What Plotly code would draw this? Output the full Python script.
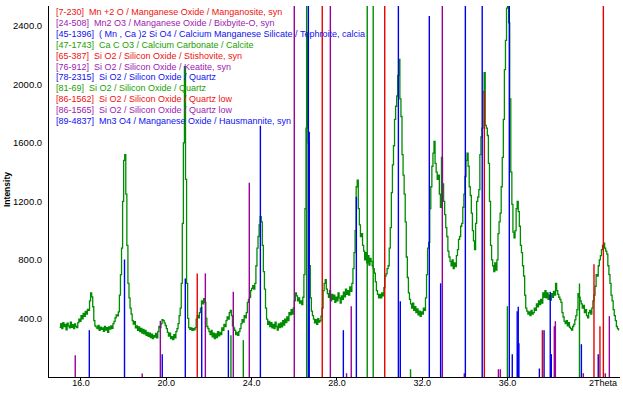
import plotly.graph_objects as go

# ---- measured XRD pattern (counts per 0.05 deg step, starting at 15.0 deg 2Theta)
scan_start = 15.0
scan_step = 0.05
counts = [
    340, 365, 330, 372, 345, 360, 322, 368, 350, 335, 375, 340, 358, 330, 362, 345, 338, 372, 395, 380,
    420, 398, 435, 415, 448, 430, 462, 455, 520, 575, 548, 480, 385, 350, 342, 330, 352, 318, 340, 325,
    335, 312, 345, 320, 338, 305, 342, 328, 350, 332, 365, 380, 405, 425, 418, 445, 560, 700, 880, 1200,
    1480, 1520, 1250, 900, 640, 540, 470, 430, 385, 362, 378, 335, 350, 318, 342, 310, 332, 300, 325, 295,
    318, 285, 305, 278, 300, 270, 292, 262, 285, 272, 298, 268, 310, 345, 338, 365, 392, 385, 370, 352,
    330, 305, 280, 300, 262, 275, 255, 290, 268, 310, 330, 365, 420, 470, 640, 1050, 1600, 2120, 1350, 640,
    400, 338, 325, 335, 318, 330, 322, 338, 395, 420, 405, 440, 470, 520, 500, 535, 510, 400, 345, 330,
    310, 290, 318, 275, 300, 262, 295, 270, 310, 282, 305, 290, 335, 318, 360, 345, 385, 410, 395, 440,
    455, 420, 350, 335, 318, 290, 305, 285, 310, 330, 365, 392, 375, 420, 405, 440, 510, 530, 545, 590,
    605, 625, 600, 640, 760, 880, 960, 1040, 1095, 1060, 900, 720, 600, 470, 395, 360, 380, 345, 372, 335,
    360, 330, 375, 345, 320, 362, 338, 370, 342, 385, 355, 395, 372, 410, 385, 440, 425, 460, 430, 470,
    520, 575, 555, 520, 540, 505, 520, 495, 545, 700, 1150, 1700, 2350, 1600, 760, 540, 450, 420, 395, 370,
    392, 360, 398, 375, 385, 415, 470, 590, 640, 665, 600, 570, 545, 590, 520, 565, 530, 560, 510, 545,
    520, 575, 540, 505, 555, 530, 580, 548, 600, 565, 590, 560, 615, 585, 640, 740, 850, 1000, 1300, 1345,
    1150, 1040, 960, 980, 900, 860, 800, 850, 780, 830, 765, 810, 790, 760, 740, 710, 650, 590, 565, 540,
    565, 540, 575, 555, 610, 690, 705, 740, 760, 880, 1020, 1260, 1450, 1580, 1760, 1850, 1920, 2060, 2170, 1900,
    1780, 1520, 1380, 1250, 1060, 820, 680, 575, 530, 500, 470, 505, 455, 480, 440, 465, 425, 450, 415, 445,
    430, 470, 455, 540, 700, 880, 920, 1150, 1300, 1440, 1530, 1610, 1460, 1400, 1350, 1380, 1250, 1160, 1500, 1320,
    1200, 1110, 1020, 960, 860, 820, 790, 760, 800, 740, 780, 755, 830, 870, 940, 960, 1030, 1050, 1160, 1250,
    1370, 1480, 1530, 1440, 1300, 1240, 1120, 1000, 930, 870, 1050, 1200, 1230, 1280, 1520, 1640, 1700, 1950, 2080, 1720,
    1700, 1650, 1460, 1200, 900, 800, 760, 720, 780, 730, 800, 980, 1060, 1120, 1300, 1500, 1760, 2100, 2300, 2520,
    2530, 2420, 1900, 1400, 1180, 990, 950, 1000, 1150, 1200, 1130, 1030, 900, 850, 760, 690, 560, 470, 450, 430,
    445, 420, 455, 430, 440, 470, 455, 500, 480, 520, 495, 530, 505, 575, 545, 590, 540, 575, 530, 560,
    525, 570, 545, 585, 560, 640, 590, 565, 545, 530, 510, 440, 410, 380, 365, 385, 350, 372, 340, 330,
    320, 345, 360, 390, 420, 460, 570, 545, 520, 500, 470, 490, 440, 460, 420, 405, 440, 455, 430, 470,
    520, 560, 620, 700, 690, 760, 800, 830, 870, 900, 915, 880, 860, 840, 760, 700, 640, 560, 520, 460,
    420, 385, 345, 330, 318,
]
two_theta = [round(scan_start + scan_step * i, 2) for i in range(len(counts))]

# ---- reference (stick) patterns, grouped by colour; 2600 = runs off the top
red_pos = [21.45, 27.31, 30.24, 34.91, 37.63, 40.05, 40.33, 40.49]
red_h = [708, 2600, 2600, 1950, 320, 771, 347, 2600]

purple_pos = [15.73, 18.87, 19.72, 21.83, 23.14, 23.89, 26.00, 27.69, 28.45, 28.67,
              32.94, 33.97, 35.57, 35.66, 38.19, 38.24, 39.55, 40.58, 40.77]
purple_h = [149, 24, 384, 708, 582, 1328, 2600, 2600, 26, 484,
            2600, 26, 53, 53, 347, 381, 26, 26, 416]

blue_pos = [16.39, 18.04, 19.81, 20.89, 21.66, 22.91, 24.41, 26.66, 26.70, 28.30,
            28.91, 30.88, 30.97, 32.33, 32.86, 34.02, 34.81, 36.08, 36.22, 36.45,
            36.48, 36.50, 36.53, 37.49, 37.71, 38.00, 38.05, 39.46, 40.25]
blue_h = [320, 803, 156, 673, 480, 320, 1717, 2600, 1676, 320,
          1231, 2600, 518, 2467, 640, 2600, 2600, 2600, 156, 450,
          230, 480, 230, 58, 320, 582, 156, 224, 156]

green_pos = [23.03, 23.61, 26.58, 29.42, 29.70, 31.45, 35.99, 39.37]
green_h = [286, 252, 2600, 2600, 2600, 53, 484, 639]

x_ticks = [16, 20, 24, 28, 32, 36]
x_tick_text = ["16.0", "20.0", "24.0", "28.0", "32.0", "36.0"]
y_ticks = [400, 800, 1200, 1600, 2000, 2400]

legend_rows = [
    ("[7-230]  Mn +2 O / Manganese Oxide / Manganosite, syn", "red"),
    ("[24-508]  Mn2 O3 / Manganese Oxide / Bixbyite-O, syn", "purple"),
    ("[45-1396]  ( Mn , Ca )2 Si O4 / Calcium Manganese Silicate / Tephroite, calcia", "blue"),
    ("[47-1743]  Ca C O3 / Calcium Carbonate / Calcite", "green"),
    ("[65-387]  Si O2 / Silicon Oxide / Stishovite, syn", "red"),
    ("[76-912]  Si O2 / Silicon Oxide / Keatite, syn", "purple"),
    ("[78-2315]  Si O2 / Silicon Oxide / Quartz", "blue"),
    ("[81-69]  Si O2 / Silicon Oxide / Quartz", "green"),
    ("[86-1562]  Si O2 / Silicon Oxide / Quartz low", "red"),
    ("[86-1565]  Si O2 / Silicon Oxide / Quartz low", "purple"),
    ("[89-4837]  Mn3 O4 / Manganese Oxide / Hausmannite, syn", "blue"),
]

line_colors = {"red": "#e60000", "purple": "#9a009a", "blue": "#0000f0", "green": "#008c00"}
text_colors = {"red": "#f01010", "purple": "#a020b0", "blue": "#1010f0", "green": "#20a000"}
FONT = "Arial, Liberation Sans, sans-serif"


def sticks(pos, h):
    xs, ys = [], []
    for p, v in zip(pos, h):
        xs += [p, p, None]
        ys += [0, v, None]
    return xs, ys


fig = go.Figure()
fig.add_trace(go.Scatter(x=two_theta, y=counts, mode="lines", line_shape="hv",
                         line=dict(color="#008c00", width=1.3), hoverinfo="skip"))
for name, pos, h in [("green", green_pos, green_h), ("purple", purple_pos, purple_h),
                     ("red", red_pos, red_h), ("blue", blue_pos, blue_h)]:
    xs, ys = sticks(pos, h)
    fig.add_trace(go.Scatter(x=xs, y=ys, mode="lines",
                             line=dict(color=line_colors[name], width=1.4), hoverinfo="skip"))

# plot area in pixels: left 49, right 620, top 6, bottom 377
PL, PR, PT, PB = 49, 620, 6, 377
annotations = []
for i, (txt, c) in enumerate(legend_rows):
    ypx = 12 + 10.9 * i
    annotations.append(dict(xref="paper", yref="paper", x=(54 - PL) / (PR - PL),
                            y=1 - (ypx - PT) / (PB - PT), xanchor="left", yanchor="middle",
                            text=txt, showarrow=False,
                            font=dict(family=FONT, size=9, color=text_colors[c])))
annotations.append(dict(xref="x", yref="paper", x=40.47, y=-(383 - PB) / (PB - PT),
                        xanchor="center", yanchor="middle", text="2Theta", showarrow=False,
                        font=dict(family=FONT, size=9, color="black")))
annotations.append(dict(xref="paper", yref="paper", x=(7 - PL) / (PR - PL), y=1 - (190 - PT) / (PB - PT),
                        xanchor="center", yanchor="middle", text="<b>Intensity</b>", textangle=-90,
                        showarrow=False, font=dict(family=FONT, size=8.5, color="black")))

fig.update_layout(
    width=623, height=395,
    margin=dict(l=PL, r=623 - PR, t=PT, b=395 - PB, pad=0),
    paper_bgcolor="white", plot_bgcolor="white",
    showlegend=False,
    annotations=annotations,
    xaxis=dict(range=[14.5, 41.27], tickvals=x_ticks, ticktext=x_tick_text,
               showline=True, linecolor="black", linewidth=1, mirror=False,
               ticks="outside", ticklen=2, tickcolor="black", ticklabelstandoff=-5,
               tickfont=dict(family=FONT, size=9, color="black"),
               showgrid=False, zeroline=False, fixedrange=True, automargin=False),
    yaxis=dict(range=[0, 2535], tickvals=y_ticks, tickformat=".1f",
               showline=True, linecolor="black", linewidth=1,
               ticks="outside", ticklen=4, tickcolor="rgba(0,0,0,0)",
               tickfont=dict(family=FONT, size=9.5, color="black"),
               showgrid=False, zeroline=False, fixedrange=True, automargin=False),
)

fig.write_html("out.html", config={"displayModeBar": False},
               post_script="document.body.style.margin='0';document.body.style.padding='0';")
